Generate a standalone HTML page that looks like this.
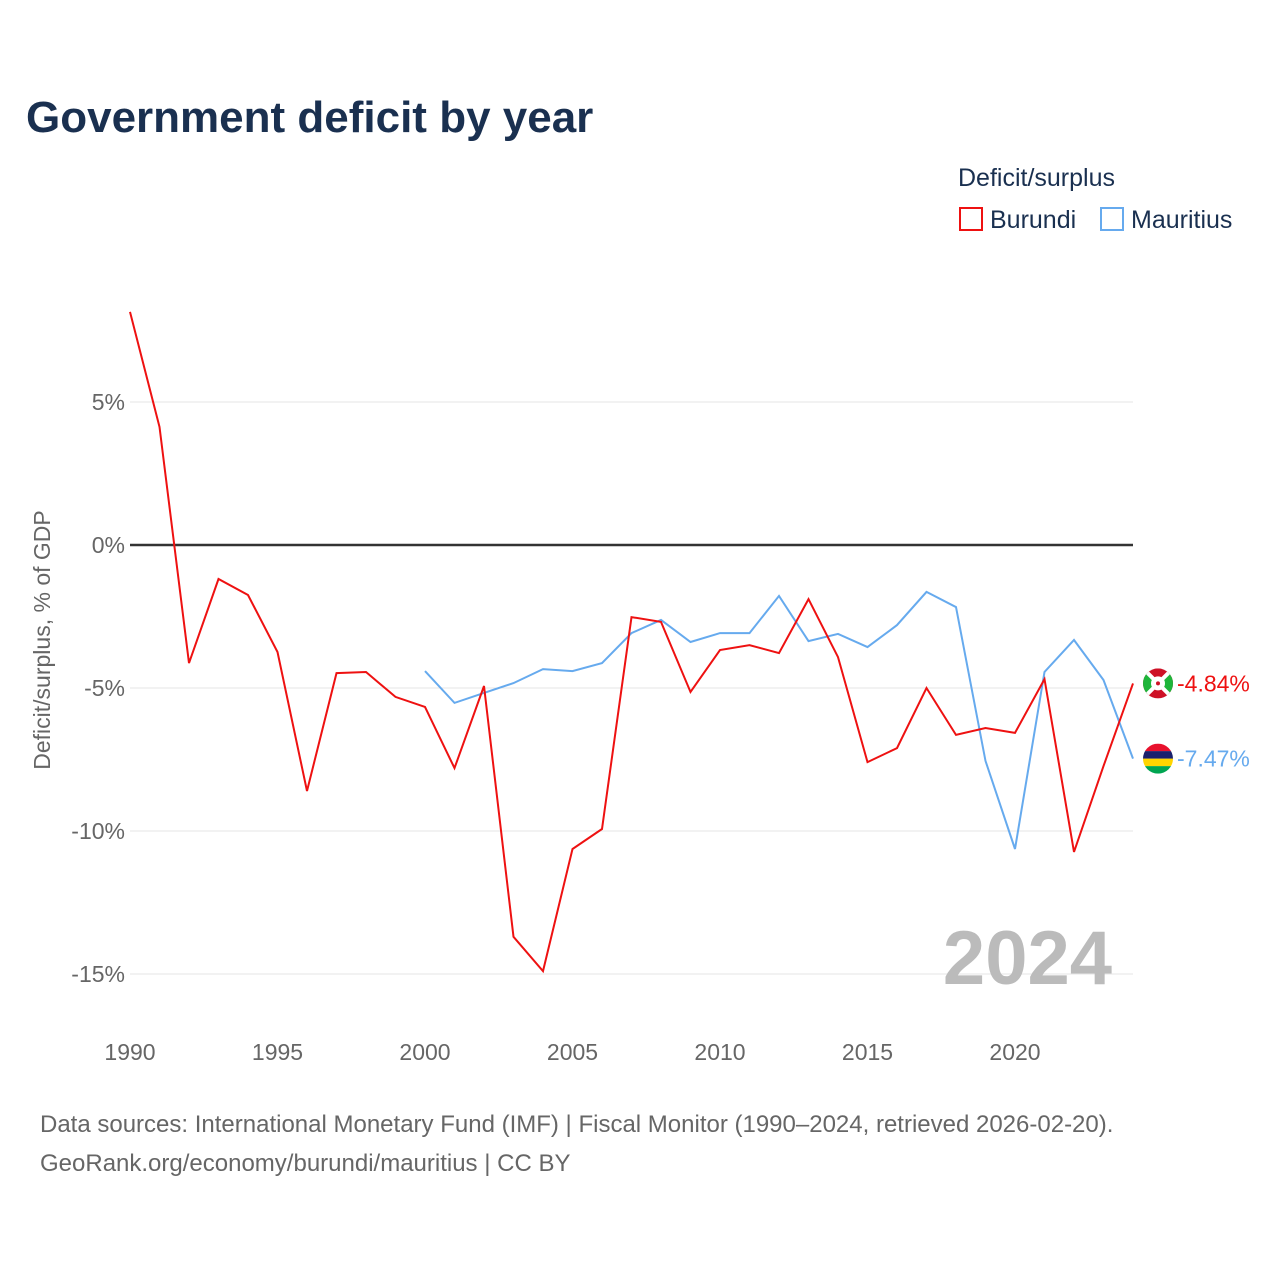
<!DOCTYPE html>
<html><head><meta charset="utf-8"><style>
body{margin:0;background:#fff;font-family:"Liberation Sans",sans-serif}
svg text{font-family:"Liberation Sans",sans-serif}
</style></head><body>
<svg id="chart" width="1280" height="1280" xmlns="http://www.w3.org/2000/svg">
<text x="26" y="132" font-size="44" font-weight="bold" fill="#1a3050">Government deficit by year</text>
<text x="958" y="186" font-size="25" fill="#1a3050">Deficit/surplus</text>
<g><rect x="960" y="208" width="22" height="22" fill="none" stroke="#ee1111" stroke-width="2"/><text x="990" y="228" font-size="25" fill="#1a3050">Burundi</text></g>
<g><rect x="1101" y="208" width="22" height="22" fill="none" stroke="#66aaee" stroke-width="2"/><text x="1131" y="228" font-size="25" fill="#1a3050">Mauritius</text></g>
<text transform="translate(50,640) rotate(-90)" text-anchor="middle" font-size="23" fill="#666">Deficit/surplus, % of GDP</text>
<g id="grid"></g><g id="lines"></g>
<text x="1112" y="984" text-anchor="end" font-size="76" font-weight="bold" fill="#bbb">2024</text>
<text x="40" y="1132" font-size="24" fill="#666">Data sources: International Monetary Fund (IMF) | Fiscal Monitor (1990–2024, retrieved 2026-02-20).</text>
<text x="40" y="1171" font-size="24" fill="#666">GeoRank.org/economy/burundi/mauritius | CC BY</text>
</svg>
<script>
const years=[];for(let y=1990;y<=2024;y++)years.push(y);
const burundi=[8.15,4.13,-4.13,-1.19,-1.75,-3.74,-8.6,-4.48,-4.44,-5.31,-5.66,-7.8,-4.93,-13.7,-14.9,-10.63,-9.93,-2.52,-2.69,-5.14,-3.67,-3.5,-3.78,-1.89,-3.92,-7.59,-7.1,-5.0,-6.64,-6.4,-6.57,-4.69,-10.73,-7.73,-4.84];
const mauritius=[null,null,null,null,null,null,null,null,null,null,-4.41,-5.52,-5.17,-4.83,-4.34,-4.41,-4.13,-3.08,-2.62,-3.39,-3.08,-3.08,-1.78,-3.36,-3.11,-3.57,-2.8,-1.64,-2.17,-7.55,-10.63,-4.44,-3.32,-4.72,-7.47];
const yTicks=[5,0,-5,-10,-15];
const xTicks=[1990,1995,2000,2005,2010,2015,2020];
const X=y=>130+(y-1990)*(1003/34);
const Y=v=>545-v*28.6;
const NS="http://www.w3.org/2000/svg";
const svg=document.getElementById('chart');
const grid=document.getElementById('grid'),lines=document.getElementById('lines');
function mk(t,a,p){const e=document.createElementNS(NS,t);for(const k in a)e.setAttribute(k,a[k]);p.appendChild(e);return e;}
yTicks.forEach(v=>{
 const l=mk('line',{x1:130,x2:1133,y1:Y(v),y2:Y(v),stroke:v===0?'#333':'#e5e5e5','stroke-width':v===0?2.5:1},grid);
 
 
 const t=mk('text',{x:125,y:Y(v)+8,'text-anchor':'end','font-size':23,fill:'#666'},grid);t.textContent=v+'%';
 
 
});
xTicks.forEach(y=>{
 const t=mk('text',{x:X(y),y:1060,'text-anchor':'middle','font-size':23,fill:'#666'},grid);t.textContent=y;
 
 
});
function path(arr){let d='';arr.forEach((v,i)=>{if(v===null)return;d+=(d?'L':'M')+X(years[i]).toFixed(1)+','+Y(v).toFixed(1);});return d;}
const pm=mk('path',{d:path(mauritius),fill:'none',stroke:'#66aaee','stroke-width':2},lines);


const pb=mk('path',{d:path(burundi),fill:'none',stroke:'#ee1111','stroke-width':2},lines);


const defs=mk('defs',{},svg);
function endLabel(v,col,name){
 const cy=Y(v),cx=1158,r=15;
 const cp=mk('clipPath',{id:'cp-'+name},defs);mk('circle',{cx:cx,cy:cy,r:r},cp);
 const g=mk('g',{'clip-path':'url(#cp-'+name+')'},lines);
 
 
 if(name==='mauritius'){
  ['#e8112d','#1a206d','#ffd500','#00a551'].forEach((c,i)=>mk('rect',{x:cx-r,y:cy-r+i*7.5,width:30,height:7.6,fill:c},g));
 } else {
  mk('rect',{x:cx-r,y:cy-r,width:30,height:30,fill:'#ce1126'},g);
  mk('polygon',{points:`${cx-r},${cy-r} ${cx},${cy} ${cx-r},${cy+r}`,fill:'#1eb53a'},g);
  mk('polygon',{points:`${cx+r},${cy-r} ${cx},${cy} ${cx+r},${cy+r}`,fill:'#1eb53a'},g);
  mk('line',{x1:cx-r,y1:cy-r,x2:cx+r,y2:cy+r,stroke:'#fff','stroke-width':4},g);
  mk('line',{x1:cx+r,y1:cy-r,x2:cx-r,y2:cy+r,stroke:'#fff','stroke-width':4},g);
  mk('circle',{cx:cx,cy:cy,r:7,fill:'#fff'},g);
  mk('circle',{cx:cx,cy:cy,r:2,fill:'#ce1126'},g);
 }
 const t=mk('text',{x:1177,y:cy+8,'font-size':23,fill:col},lines);t.textContent=v.toFixed(2)+'%';
 
 
}
endLabel(burundi[34],'#ee1111','burundi');
endLabel(mauritius[34],'#66aaee','mauritius');
</script>
</body></html>
